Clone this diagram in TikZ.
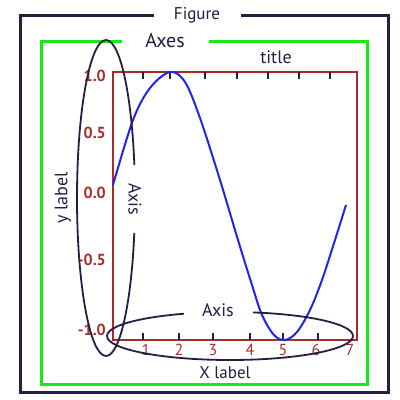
\documentclass[tikz,border=0pt]{standalone}
\usepackage{fontspec}
\setmainfont{PT Sans}
\definecolor{fignavy}{RGB}{35,30,66}
\definecolor{axgreen}{RGB}{20,235,20}
\definecolor{plotbrown}{RGB}{168,45,42}
\definecolor{curveblue}{RGB}{35,35,240}
\usetikzlibrary{positioning}

\begin{document}
\begin{tikzpicture}[x=1pt,y=-1pt,
  gaplbl/.style={fill=white,inner sep=0pt,text=fignavy,minimum height=14pt},
  namelbl/.style={text=fignavy,inner sep=0pt,font=\fontsize{18}{20}\selectfont},
  ticklbl/.style={text=plotbrown,inner sep=0pt,font=\fontsize{16}{18}\selectfont},
  tickmark/.style={fignavy,line width=2pt}]
  \useasboundingbox (0,0) rectangle (400,400);
  % figure and axes frames
  \draw[fignavy,line width=3pt] (20,15) rectangle (388,392);
  \node[gaplbl,minimum width=87pt,font=\fontsize{17}{19}\selectfont] (figure) at (197,15) {Figure};
  \draw[axgreen,line width=3pt] (41,41) rectangle (367,384);
  \node[gaplbl,minimum width=87pt,font=\fontsize{20}{22}\selectfont] (axes) at (165,41) {Axes};
  \node[namelbl] (title) at (276,57) {title};
  % plot box
  \draw[plotbrown,line width=2pt] (113,72) rectangle (357,340);
  \foreach \x in {143,170,205,237,268,299,330}
    \draw[tickmark] (\x,72) -- (\x,79);
  \foreach \x in {143,179,213,250,283,318}
    \draw[tickmark] (\x,340) -- (\x,333);
  \foreach \x/\t in {146/1,179/2,213/3,250/4,283/5,316/6,350/7}
    \node[ticklbl] (xtick\t) at (\x,350) {\t};
  \foreach \y/\t [count=\i] in {76/1.0,133/0.5,193/0.0,260/-0.5,330/-1.0}
    \node[ticklbl,anchor=east,font=\fontsize{16}{18}\selectfont\bfseries] (ytick\i) at (106,\y) {\t};
  % curve
  \draw[curveblue,line width=2pt] plot[smooth,tension=0.55] coordinates {
    (113,185) (133,120) (150,88) (170,72) (185,82) (200,118) (220,180)
    (238,240) (252,285) (262,315) (274,335) (285,340) (297,332) (310,310)
    (322,280) (335,240) (346,205)};
  % axis ellipses
  \draw[fignavy,line width=1.8pt] (106,198) ellipse [x radius=29pt,y radius=158pt];
  \node[gaplbl,namelbl,fill=white,minimum width=68pt,minimum height=10pt,rotate=-90] (yaxis) at (135,199) {Axis};
  \draw[fignavy,line width=1.8pt] (230,336) ellipse [x radius=123pt,y radius=24pt];
  \node[gaplbl,namelbl,fill=white,minimum width=69pt,minimum height=14pt] (xaxis) at (218,310) {Axis};
  \node[namelbl,rotate=90] (ylabel) at (63,198) {y label};
  \node[namelbl,font=\fontsize{17}{19}\selectfont] (xlabel) at (225,373) {X label};
\end{tikzpicture}
\end{document}
